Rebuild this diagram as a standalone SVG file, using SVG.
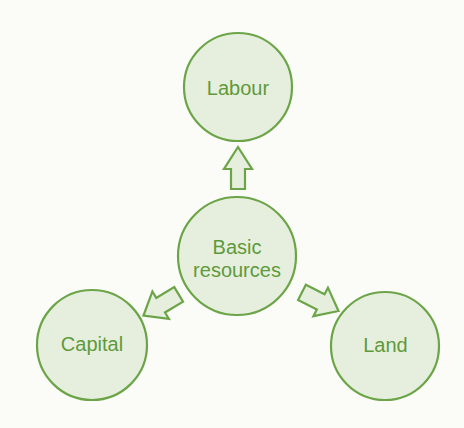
<svg xmlns="http://www.w3.org/2000/svg" xmlns:xlink="http://www.w3.org/1999/xlink" width="464" height="428" viewBox="0 0 464 428">
<style>
.node{fill:#e6efdd;stroke:#6ba548;stroke-width:2.2}
.lbl{font-family:"Liberation Sans",Arial,sans-serif;font-size:20px;fill:#5e9a3c;text-anchor:middle}
.arr{fill:#e6efdd;stroke:#6ba548;stroke-width:2.2;stroke-linejoin:miter}
</style>
<defs>
<path id="arrow" d="M0,0 L14,22 L7,22 L7,42 L-7,42 L-7,22 L-14,22 Z"/>
<path id="arrowD" d="M0,0 L16,20 L8.5,20 L8.5,41 L-8.5,41 L-8.5,20 L-16,20 Z"/>
</defs>
<rect width="464" height="428" fill="#fbfbf8"/>
<g id="connectors">
<use xlink:href="#arrow" class="arr" transform="translate(238,147)"/>
<use xlink:href="#arrowD" class="arr" transform="translate(143.5,315.5) rotate(-121)"/>
<use xlink:href="#arrowD" class="arr" transform="translate(338.5,311) rotate(117)"/>
</g>
<g id="labour">
<circle class="node" cx="238" cy="87" r="54"/>
<text class="lbl" x="238" y="95">Labour</text>
</g>
<g id="basic">
<circle class="node" cx="237" cy="256" r="59"/>
<text class="lbl" x="237" y="254">Basic</text>
<text class="lbl" x="237" y="277">resources</text>
</g>
<g id="capital">
<circle class="node" cx="92" cy="345" r="55"/>
<text class="lbl" x="92" y="351">Capital</text>
</g>
<g id="land">
<circle class="node" cx="385" cy="346" r="54"/>
<text class="lbl" x="385.5" y="352">Land</text>
</g>
</svg>
